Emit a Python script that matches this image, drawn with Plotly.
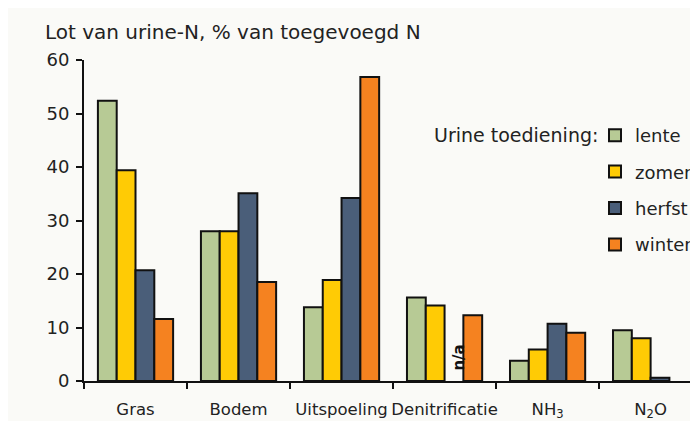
import plotly.graph_objects as go

categories = ["Gras", "Bodem", "Uitspoeling", "Denitrificatie", "NH<sub>3</sub>", "N<sub>2</sub>O"]
lente = [52.4, 28.0, 13.8, 15.6, 3.8, 9.5]
zomer = [39.4, 28.0, 18.9, 14.1, 5.9, 8.0]
herfst = [20.7, 35.1, 34.2, None, 10.7, 0.6]
winter = [11.6, 18.5, 56.8, 12.3, 9.0, None]
series_names = ["lente", "zomer", "herfst", "winter"]
series_values = [lente, zomer, herfst, winter]
colors = ["#b7ca95", "#ffcb05", "#4a5e79", "#f58220"]
y_ticks = [0, 10, 20, 30, 40, 50, 60]

FONT = "DejaVu Sans"
L, T, B, R = 76, 52, 48, 8
PW = 698 - L - R
PH = 421 - T - B

fig = go.Figure()
for name, vals, col in zip(series_names, series_values, colors):
    fig.add_trace(go.Bar(
        x=categories, y=vals, name=name, legendgroup=name,
        marker=dict(color=col, line=dict(color="#111111", width=2)),
    ))

fig.add_annotation(x=categories[3], y=4.3, text="<b>n/a</b>", showarrow=False,
                   textangle=-90, xshift=14, font=dict(family=FONT, size=15, color="#111"))

# legend heading, placed beside the first legend entry
fig.add_annotation(xref="paper", yref="paper", x=(592-L)/PW, xanchor="right",
                   y=1-(127-T)/PH, yanchor="middle", text="Urine toediening:",
                   showarrow=False, font=dict(family=FONT, size=19, color="#222222"))

fig.update_layout(
    width=698, height=421,
    paper_bgcolor="#fafaf7", plot_bgcolor="#fafaf7",
    margin=dict(l=L, r=R, t=T, b=B, autoexpand=False),
    barmode="group", bargap=0.27, bargroupgap=0,
    font=dict(family=FONT, size=17, color="#222222"),
    title=dict(text="Lot van urine-N, % van toegevoegd N", x=37/698, xanchor="left",
               y=1-24/421, yanchor="middle", pad=dict(l=0, r=0, t=0, b=0),
               font=dict(family=FONT, size=20, color="#222222")),
    xaxis=dict(range=[-0.5, 5.46], showline=True, linecolor="#111111", linewidth=2,
               ticks="outside", tickson="boundaries", ticklen=6, tickwidth=2, tickcolor="#111111",
               tickangle=0, ticklabelstandoff=12, tickfont=dict(size=16.5),
               showgrid=False, zeroline=False, automargin=False),
    yaxis=dict(range=[0, 60], tickvals=y_ticks, showline=True, linecolor="#111111", linewidth=2,
               ticks="outside", ticklen=6, tickwidth=2, tickcolor="#111111",
               ticklabelstandoff=3, tickfont=dict(size=18),
               showgrid=False, zeroline=False, automargin=False),
    legend=dict(x=(587-L)/PW, xanchor="left", y=1-(109-T)/PH, yanchor="top",
                bgcolor="rgba(0,0,0,0)", font=dict(family=FONT, size=18, color="#222222"),
                tracegroupgap=10, itemwidth=30),
    showlegend=True,
)
fig.write_html("out.html")
